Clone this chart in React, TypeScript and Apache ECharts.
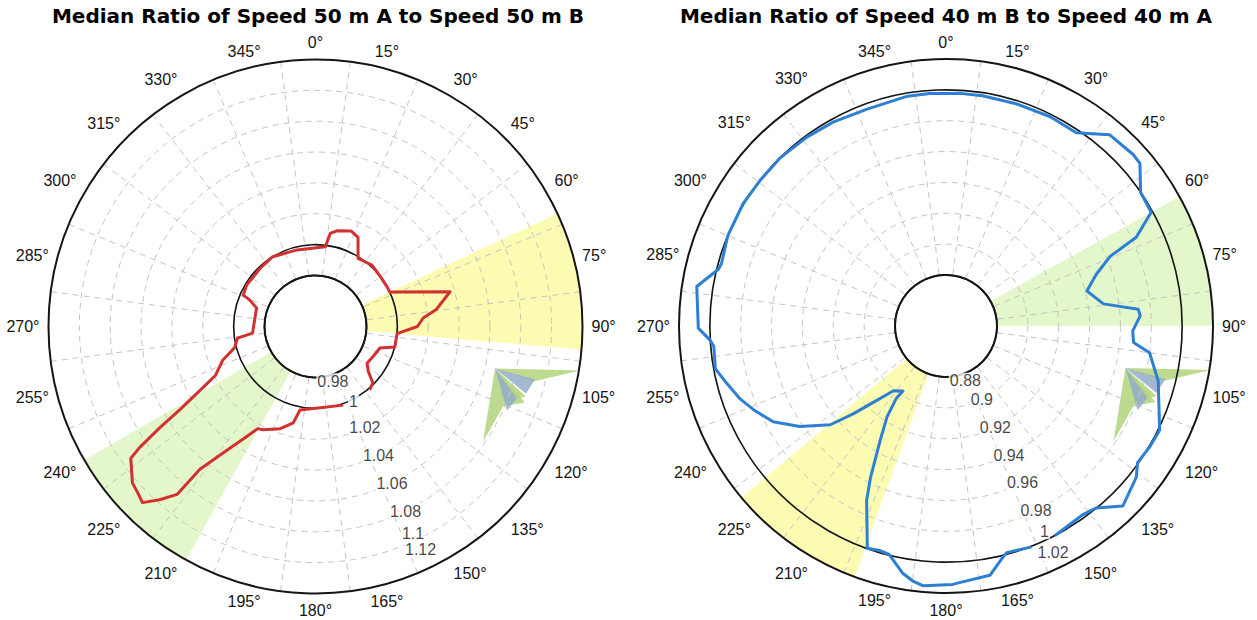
import React, { useEffect, useRef } from 'react';
import * as echarts from 'echarts';

// ---------- texts ----------
const leftTitle = 'Median Ratio of Speed 50 m A to Speed 50 m B';
const rightTitle = 'Median Ratio of Speed 40 m B to Speed 40 m A';

const angleLabels = ['0°', '15°', '30°', '45°', '60°', '75°', '90°', '105°', '120°', '135°', '150°', '165°',
  '180°', '195°', '210°', '225°', '240°', '255°', '270°', '285°', '300°', '315°', '330°', '345°'];

// ---------- radial axes ----------
const leftRadiusMin = 0.98;
const leftRadiusMax = 1.12;
const rightRadiusMin = 0.88;
const rightRadiusMax = 1.02;
const radiusStep = 0.02;

const leftTickValues = [0.98, 1, 1.02, 1.04, 1.06, 1.08, 1.1, 1.12];
const leftTickLabels = ['0.98', '1', '1.02', '1.04', '1.06', '1.08', '1.1', '1.12'];
const rightTickValues = [0.88, 0.9, 0.92, 0.94, 0.96, 0.98, 1, 1.02];
const rightTickLabels = ['0.88', '0.9', '0.92', '0.94', '0.96', '0.98', '1', '1.02'];

// solid reference circles (inner hole edge and ratio = 1)
const leftReferenceCircles = [0.98, 1];
const rightReferenceCircles = [0.88, 1];

// ---------- shaded direction sectors (degrees, clockwise from north) ----------
const leftSectorStart = [65, 209];
const leftSectorEnd = [95, 240];
const leftSectorKind = ['yellow', 'green'];
const rightSectorStart = [61, 200];
const rightSectorEnd = [90, 230];
const rightSectorKind = ['green', 'yellow'];

// ---------- median ratio by direction ----------
const leftDirections = [160.5, 190.5, 193, 199, 207, 209.5, 212, 215.5, 219, 219.5, 222, 224.5, 226.5, 229.5,
  234.5, 235.5, 237, 238.5, 241.5, 244, 250, 253, 255.5, 261.5, 264, 287.5, 292, 293.5, 301, 316.5, 328.5,
  346.5, 7, 9, 12.5, 20.5, 25.5, 32, 42.5, 52.5, 61, 65, 75.5, 82, 85.5, 90, 95, 104.5, 108.5, 117.5, 125.5,
  130.5, 134.5, 139.5];
const leftRatios = [1.001, 1.002, 1.011, 1.017, 1.022, 1.023, 1.031, 1.045, 1.066, 1.088, 1.098, 1.107, 1.105,
  1.103, 1.094, 1.085, 1.067, 1.05, 1.03, 1.019, 1.011, 1.005, 1.001, 0.998, 0.988, 0.987, 0.993, 0.998,
  0.999, 0.999, 1.0, 0.998, 0.999, 1.008, 1.0105, 1.013, 1.011, 0.999, 1.001, 1.0, 1.0, 1.0, 1.037, 1.026,
  1.017, 1.013, 1.0, 1.0, 0.991, 0.989, 0.988, 0.992, 0.999, 1.001];

const rightDirections = [158.8, 165, 166.5, 170, 177, 178.5, 185, 187.5, 190, 194, 196.5, 199.5, 204.5, 206.5,
  210, 213, 214.5, 213.5, 219, 223.5, 226.5, 229.5, 235.5, 241, 246.5, 250.5, 255.5, 259.5, 265, 266.5,
  269.5, 279, 284, 285.5, 292.5, 301, 308, 315.5, 323.5, 331, 340, 350.5, 356, 3.5, 9, 17.5, 26.5, 34, 40.5,
  47.5, 50, 55.5, 61, 65, 67, 71, 76, 82, 85, 87, 91.5, 95, 97.5, 104.5, 116, 120.5, 125.5, 128.5, 135.5,
  140.5, 144, 152.5];
const rightRatios = [1.0005, 0.999, 1.002, 1.011, 1.0135, 1.0145, 1.016, 1.0135, 1.0095, 0.9995, 0.9987,
  0.9997, 0.971, 0.9565, 0.932, 0.917, 0.904, 0.8975, 0.901, 0.915, 0.9295, 0.9455, 0.962, 0.975, 0.983,
  0.9885, 0.994, 0.999, 0.998, 1.0, 1.0075, 1.0105, 0.999, 0.998, 1.0, 1.0005, 1.0, 1.0, 0.999, 0.998,
  0.9965, 0.998, 0.998, 0.998, 0.998, 0.998, 0.9985, 0.998, 1.01, 1.0115, 1.011, 1.0, 0.999, 0.983, 0.9625,
  0.95, 0.941, 0.95, 0.972, 0.973, 0.968, 0.969, 0.98, 0.989, 1.001, 1.0005, 0.9995, 1.0045, 1.0105, 0.9998,
  0.998, 1.0];

// ---------- styling / layout ----------
const labelFont = 'Liberation Sans, Arial, sans-serif';
const titleFont = 'DejaVu Sans, Verdana, sans-serif';
const textColor = '#141414';
const gridColor = '#c4c4c4';
const sectorColors: Record<string, string> = { yellow: '#fcfbb2', green: '#e3f7cb' };
const leftCenter = [315.5, 326.5];
const rightCenter = [946, 326];
const innerRadius = 51;
const outerRadius = 267;
const tickLabelAngle = 154;

type ChartSpec = {
  center: number[];
  min: number;
  max: number;
  tickValues: number[];
  tickLabels: string[];
  labelOffsets: Record<number, number[]>;
  circles: number[];
  sectorStart: number[];
  sectorEnd: number[];
  sectorKind: string[];
  directions: number[];
  ratios: number[];
  lineColor: string;
};

function glyph(cx: number, cy: number) {
  const green = '#b2d57a';
  const blue = '#93adc9';
  const shapes: [number[][], string][] = [
    [[[0, 0], [85, 2], [38, 13]], green],
    [[[0, 0], [-12, 73], [8, 38], [30, 34]], green],
    [[[0, 0], [40, 11], [31, 25]], blue],
    [[[0, 0], [31, 28], [19, 31]], green],
    [[[0, 0], [22, 30], [12, 42]], blue],
  ];
  return {
    type: 'group',
    x: cx + 179.5,
    y: cy + 42,
    silent: true,
    children: shapes.map(([pts, color]) => ({
      type: 'polygon',
      shape: { points: pts },
      style: { fill: color, opacity: 0.85 },
    })),
  };
}

function buildChart(spec: ChartSpec, gridPolar: number, dataPolar: number) {
  const polar = [
    { center: spec.center, radius: [innerRadius, outerRadius] },
    { center: spec.center, radius: [innerRadius, outerRadius] },
  ];
  const angleAxis = [
    {
      polarIndex: gridPolar,
      type: 'category',
      data: angleLabels,
      startAngle: 97.5,
      clockwise: true,
      boundaryGap: true,
      z: 2,
      axisLine: { show: true, lineStyle: { color: '#151515', width: 2 } },
      axisTick: { show: false },
      axisLabel: { show: true, interval: 0, margin: 9, color: textColor, fontSize: 16, fontFamily: labelFont },
      splitLine: { show: true, interval: 0, lineStyle: { color: gridColor, width: 1, type: [6, 5] } },
    },
    {
      polarIndex: dataPolar,
      type: 'value',
      min: 0,
      max: 360,
      startAngle: 90,
      clockwise: true,
      show: false,
    },
  ];
  const radiusAxis = [
    {
      polarIndex: gridPolar,
      type: 'value',
      min: spec.min,
      max: spec.max,
      interval: radiusStep,
      z: 2,
      axisLine: { show: false },
      axisTick: { show: false },
      axisLabel: { show: false },
      splitLine: { show: true, lineStyle: { color: gridColor, width: 1, type: [6, 5] } },
    },
    {
      polarIndex: dataPolar,
      type: 'value',
      min: spec.min,
      max: spec.max,
      show: false,
    },
  ];
  const series: any[] = [
    {
      type: 'custom',
      coordinateSystem: 'polar',
      polarIndex: dataPolar,
      silent: true,
      z: 1,
      data: spec.sectorStart.map((s, i) => [s, spec.sectorEnd[i]]),
      renderItem: (params: any, api: any) => {
        const cs = params.coordSys;
        const a0 = api.value(0);
        const a1 = api.value(1);
        return {
          type: 'sector',
          shape: {
            cx: cs.cx,
            cy: cs.cy,
            r0: cs.r0,
            r: cs.r,
            startAngle: ((a0 - 90) * Math.PI) / 180,
            endAngle: ((a1 - 90) * Math.PI) / 180,
            clockwise: true,
          },
          style: { fill: sectorColors[spec.sectorKind[params.dataIndex]], stroke: 'none' },
        };
      },
    },
    {
      type: 'custom',
      coordinateSystem: 'polar',
      polarIndex: dataPolar,
      silent: true,
      z: 3,
      data: spec.circles.map((v) => [v, 0]),
      renderItem: (params: any, api: any) => {
        const cs = params.coordSys;
        const p = api.coord([api.value(0), 0]);
        const r = Math.hypot(p[0] - cs.cx, p[1] - cs.cy);
        return {
          type: 'circle',
          shape: { cx: cs.cx, cy: cs.cy, r },
          style: { fill: 'none', stroke: '#151515', lineWidth: 1.6 },
        };
      },
    },
    {
      type: 'line',
      coordinateSystem: 'polar',
      polarIndex: dataPolar,
      z: 4,
      symbol: 'none',
      showSymbol: false,
      smooth: false,
      clip: false,
      lineStyle: { color: spec.lineColor, width: 3, join: 'round' },
      data: spec.directions.map((a, i) => [spec.ratios[i], a]),
    },
    {
      type: 'scatter',
      coordinateSystem: 'polar',
      polarIndex: dataPolar,
      z: 5,
      silent: true,
      symbolSize: 1,
      itemStyle: { color: 'rgba(0,0,0,0)' },
      data: spec.tickValues.map((v, i) => ({
        value: [v, tickLabelAngle],
        label: { offset: spec.labelOffsets[i] || [0, 0] },
      })),
      label: {
        show: true,
        position: 'inside',
        formatter: (p: any) => spec.tickLabels[p.dataIndex],
        color: textColor,
        fontSize: 16,
        fontFamily: labelFont,
        backgroundColor: '#ffffff',
        padding: [0, 1],
      },
    },
  ];
  return { polar, angleAxis, radiusAxis, series };
}

export default function App() {
  const ref = useRef<HTMLDivElement>(null);
  useEffect(() => {
    if (!ref.current) return;
    const chart = echarts.init(ref.current, undefined, { renderer: 'svg' });
    const left = buildChart(
      {
        center: leftCenter,
        min: leftRadiusMin,
        max: leftRadiusMax,
        tickValues: leftTickValues,
        tickLabels: leftTickLabels,
        labelOffsets: { 0: [-5, 9], 1: [2, 1], 6: [-6, -5], 7: [-12, -17] },
        circles: leftReferenceCircles,
        sectorStart: leftSectorStart,
        sectorEnd: leftSectorEnd,
        sectorKind: leftSectorKind,
        directions: leftDirections,
        ratios: leftRatios,
        lineColor: '#d23131',
      },
      0,
      1
    );
    const right = buildChart(
      {
        center: rightCenter,
        min: rightRadiusMin,
        max: rightRadiusMax,
        tickValues: rightTickValues,
        tickLabels: rightTickLabels,
        labelOffsets: { 0: [-3, 9], 6: [-5, -7], 7: [-10, -13] },
        circles: rightReferenceCircles,
        sectorStart: rightSectorStart,
        sectorEnd: rightSectorEnd,
        sectorKind: rightSectorKind,
        directions: rightDirections,
        ratios: rightRatios,
        lineColor: '#2d7fd3',
      },
      2,
      3
    );
    const titleStyle = { fontFamily: titleFont, fontWeight: 'bold', fontSize: 20, color: '#000' };
    const option: any = {
      animation: false,
      backgroundColor: '#ffffff',
      title: [
        { text: leftTitle, left: 318, top: 6, textAlign: 'center', padding: 0, textStyle: titleStyle },
        { text: rightTitle, left: 946, top: 6, textAlign: 'center', padding: 0, textStyle: titleStyle },
      ],
      polar: [...left.polar, ...right.polar],
      angleAxis: [...left.angleAxis, ...right.angleAxis],
      radiusAxis: [...left.radiusAxis, ...right.radiusAxis],
      series: [...left.series, ...right.series],
      graphic: [glyph(leftCenter[0], leftCenter[1]), glyph(rightCenter[0], rightCenter[1])],
    };
    chart.setOption(option);
    return () => chart.dispose();
  }, []);
  return (
    <div
      ref={ref}
      style={{ position: 'fixed', left: 0, top: 0, width: 1257, height: 620, background: '#fff' }}
    />
  );
}
